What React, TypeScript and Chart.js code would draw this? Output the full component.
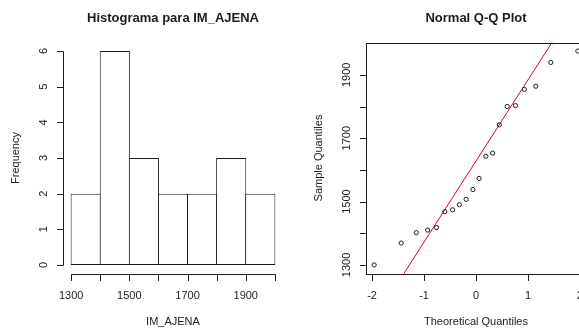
import { useEffect, useRef } from 'react';
import { Chart, registerables } from 'chart.js';

Chart.register(...registerables);

// Histogram of IM_AJENA: bin midpoints and counts (bins of width 100)
const BIN_CENTERS = [1350, 1450, 1550, 1650, 1750, 1850, 1950];
const BIN_COUNTS = [2, 6, 3, 2, 2, 3, 2];
const HIST_X_TICKS = [1300, 1400, 1500, 1600, 1700, 1800, 1900, 2000];
const HIST_X_LABELS = ['1300', '', '1500', '', '1700', '', '1900', ''];
const HIST_Y_TICKS = [0, 1, 2, 3, 4, 5, 6];
const HIST_Y_LABELS = ['0', '1', '2', '3', '4', '5', '6'];

// Normal Q-Q plot: theoretical normal quantiles vs sorted sample values
const THEORETICAL = [
  -1.96, -1.44, -1.15, -0.93, -0.76, -0.6, -0.45, -0.32, -0.19, -0.06,
  0.06, 0.19, 0.32, 0.45, 0.6, 0.76, 0.93, 1.15, 1.44, 1.96,
];
const SAMPLE = [
  1300, 1369, 1402, 1410, 1418, 1468, 1474, 1490, 1507, 1538,
  1573, 1643, 1653, 1742, 1800, 1803, 1854, 1864, 1939, 1975,
];
// reference line through the first and third quartiles
const QQ_LINE_X = [-2.2, 2.2];
const QQ_LINE_Y = [1065, 2191];
const QQ_X_TICKS = [-2, -1, 0, 1, 2];
const QQ_X_LABELS = ['-2', '-1', '0', '1', '2'];
const QQ_Y_TICKS = [1300, 1400, 1500, 1600, 1700, 1800, 1900];
const QQ_Y_LABELS = ['1300', '', '1500', '', '1700', '', '1900'];

const INK = '#1c1c1c';
const FONT = '"Liberation Sans", Arial, sans-serif';
const TICK_LEN = 6.5;
const PANEL_W = 303;
const PANEL_H = 330;
const PADDING = { left: 63, right: 20, top: 42.5, bottom: 56.5 };

const HIST_X_MIN = 1272;
const HIST_X_MAX = 2028;
const BIN_WIDTH = 100;

type AxisOpts = {
  title: string;
  xTitle: string;
  yTitle: string;
  xLabels: string[];
  yLabels: string[];
  box: boolean;
};

const crisp = (v: number) => Math.round(v) + 0.5;

// Base-graphics style axes: lines spanning first..last tick, outward ticks,
// rotated y labels, bold main title.
const rAxesPlugin = {
  id: 'rAxes',
  afterDraw(chart: any, _args: any, opts: AxisOpts) {
    const { ctx, chartArea: a, scales } = chart;
    const xs = scales.x;
    const ys = scales.y;
    ctx.save();
    ctx.strokeStyle = INK;
    ctx.fillStyle = INK;
    ctx.lineWidth = 1;

    if (opts.box) {
      ctx.strokeRect(crisp(a.left), crisp(a.top), Math.round(a.right - a.left), Math.round(a.bottom - a.top));
    }

    // x axis
    const y0 = crisp(a.bottom);
    const xt = xs.ticks;
    ctx.beginPath();
    ctx.moveTo(crisp(xs.getPixelForValue(xt[0].value)), y0);
    ctx.lineTo(crisp(xs.getPixelForValue(xt[xt.length - 1].value)), y0);
    xt.forEach((t: any) => {
      const px = crisp(xs.getPixelForValue(t.value));
      ctx.moveTo(px, y0);
      ctx.lineTo(px, y0 + TICK_LEN);
    });
    ctx.stroke();
    ctx.font = `11px ${FONT}`;
    ctx.textAlign = 'center';
    ctx.textBaseline = 'alphabetic';
    xt.forEach((t: any, i: number) => {
      const lbl = opts.xLabels[i];
      if (lbl) ctx.fillText(lbl, xs.getPixelForValue(t.value), a.bottom + 25.5);
    });

    // y axis
    const x0 = crisp(a.left);
    const yt = ys.ticks;
    ctx.beginPath();
    ctx.moveTo(x0, crisp(ys.getPixelForValue(yt[0].value)));
    ctx.lineTo(x0, crisp(ys.getPixelForValue(yt[yt.length - 1].value)));
    yt.forEach((t: any) => {
      const py = crisp(ys.getPixelForValue(t.value));
      ctx.moveTo(x0, py);
      ctx.lineTo(x0 - TICK_LEN, py);
    });
    ctx.stroke();
    yt.forEach((t: any, i: number) => {
      const lbl = opts.yLabels[i];
      if (!lbl) return;
      ctx.save();
      ctx.translate(a.left - 16, ys.getPixelForValue(t.value));
      ctx.rotate(-Math.PI / 2);
      ctx.fillText(lbl, 0, 0);
      ctx.restore();
    });

    // axis titles
    ctx.fillText(opts.xTitle, (a.left + a.right) / 2, a.bottom + 51);
    ctx.save();
    ctx.translate(a.left - 44, (a.top + a.bottom) / 2);
    ctx.rotate(-Math.PI / 2);
    ctx.fillText(opts.yTitle, 0, 0);
    ctx.restore();

    // main title
    ctx.font = `bold 13px ${FONT}`;
    ctx.fillText(opts.title, (a.left + a.right) / 2, 22);
    ctx.restore();
  },
};

const fixedTicks = (values: number[]) => (scale: any) => {
  scale.ticks = values.map((value) => ({ value }));
};

const axisScale = (min: number, max: number, ticks: number[]) => ({
  type: 'linear' as const,
  min,
  max,
  offset: false,
  display: false,
  ticks: { autoSkip: false },
  afterBuildTicks: fixedTicks(ticks),
});

function Histogram() {
  const ref = useRef<HTMLCanvasElement>(null);
  useEffect(() => {
    // widen each bar by one pixel so neighbouring outlines share a single line
    const binPx = ((PANEL_W - PADDING.left - PADDING.right) * BIN_WIDTH) / (HIST_X_MAX - HIST_X_MIN);
    const chart = new Chart(ref.current!, {
      type: 'bar',
      data: {
        datasets: [
          {
            data: BIN_CENTERS.map((x, i) => ({ x, y: BIN_COUNTS[i] })),
            backgroundColor: '#ffffff',
            borderColor: INK,
            borderWidth: 1,
            borderSkipped: false,
            inflateAmount: 0,
            barPercentage: (binPx + 1) / binPx,
            categoryPercentage: 1,
          } as any,
        ],
      },
      options: {
        responsive: false,
        animation: false,
        events: [],
        layout: { padding: PADDING },
        scales: {
          x: axisScale(HIST_X_MIN, HIST_X_MAX, HIST_X_TICKS),
          y: axisScale(-0.24, 6.24, HIST_Y_TICKS),
        } as any,
        plugins: {
          legend: { display: false },
          tooltip: { enabled: false },
          rAxes: {
            title: 'Histograma para IM_AJENA',
            xTitle: 'IM_AJENA',
            yTitle: 'Frequency',
            xLabels: HIST_X_LABELS,
            yLabels: HIST_Y_LABELS,
            box: false,
          },
        } as any,
      },
      plugins: [rAxesPlugin],
    });
    return () => chart.destroy();
  }, []);
  return <canvas ref={ref} width={PANEL_W} height={PANEL_H} style={{ position: 'absolute', left: 0, top: 0 }} />;
}

function QQPlot() {
  const ref = useRef<HTMLCanvasElement>(null);
  useEffect(() => {
    const chart = new Chart(ref.current!, {
      type: 'scatter',
      data: {
        datasets: [
          {
            data: THEORETICAL.map((x, i) => ({ x, y: SAMPLE[i] })),
            pointRadius: 2.1,
            pointBorderWidth: 1,
            pointBorderColor: INK,
            pointBackgroundColor: 'rgba(0,0,0,0)',
            showLine: false,
          },
          {
            type: 'line',
            data: QQ_LINE_X.map((x, i) => ({ x, y: QQ_LINE_Y[i] })),
            borderColor: '#e3001b',
            borderWidth: 1,
            pointRadius: 0,
            clip: 0,
          } as any,
        ],
      },
      options: {
        responsive: false,
        animation: false,
        events: [],
        layout: { padding: PADDING },
        scales: {
          x: axisScale(-2.117, 2.117, QQ_X_TICKS),
          y: axisScale(1273, 2002, QQ_Y_TICKS),
        } as any,
        plugins: {
          legend: { display: false },
          tooltip: { enabled: false },
          rAxes: {
            title: 'Normal Q-Q Plot',
            xTitle: 'Theoretical Quantiles',
            yTitle: 'Sample Quantiles',
            xLabels: QQ_X_LABELS,
            yLabels: QQ_Y_LABELS,
            box: true,
          },
        } as any,
      },
      plugins: [rAxesPlugin],
    });
    return () => chart.destroy();
  }, []);
  return <canvas ref={ref} width={PANEL_W} height={PANEL_H} style={{ position: 'absolute', left: PANEL_W, top: 0 }} />;
}

export default function App() {
  return (
    <div
      style={{
        position: 'fixed',
        left: 0,
        top: 0,
        width: 579,
        height: 330,
        overflow: 'hidden',
        background: '#ffffff',
      }}
    >
      <Histogram />
      <QQPlot />
    </div>
  );
}
